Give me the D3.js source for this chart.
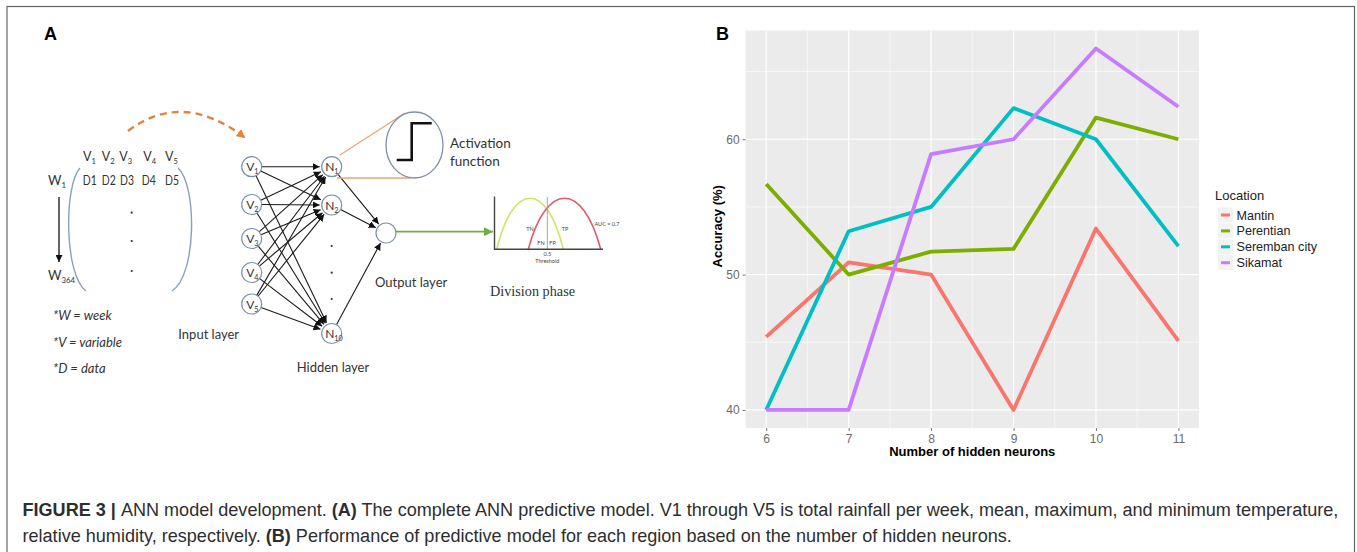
<!DOCTYPE html>
<meta charset="utf-8">
<script src="https://d3js.org/d3.v7.min.js"></script>
<style>
  body { margin: 0; background: #fff; }
  svg { display: block; }
</style>
<body>
<div id="fig"></div>
<script>

// ---- panel B data (accuracy per number of hidden neurons) ----
var neurons   = [6, 7, 8, 9, 10, 11];
var locations = ["Mantin", "Perentian", "Seremban city", "Sikamat"];
var mantin    = [45.4, 50.9, 50.0, 40.0, 53.4, 45.1];
var perentian = [56.7, 50.0, 51.7, 51.9, 61.6, 60.0];
var seremban  = [40.0, 53.2, 55.0, 62.3, 60.0, 52.1];
var sikamat   = [40.0, 40.0, 58.9, 60.0, 66.7, 62.4];
var yTicks    = [40, 50, 60];
var yMinor    = [45, 55, 65];
var palette   = ["#F8766D", "#7CAE00", "#00BFC4", "#C77CFF"];

// ---- panel A diagram labels ----
var inputIds  = ["1", "2", "3", "4", "5"];
var hiddenIds = ["1", "2", "10"];
var matrixCols = ["1", "2", "3", "4", "5"];
var notes = ["*W = week", "*V = variable", "*D = data"];

var W = 1357, H = 552;
var svg = d3.select("#fig").append("svg")
    .attr("width", W)
    .attr("height", H)
    .style("font-family", "'Liberation Sans', Arial, sans-serif");

svg.append("rect").attr("width", W).attr("height", H).attr("fill", "#fff");

// outer frame of the figure
svg.append("rect")
    .attr("x", 7).attr("y", 6.5)
    .attr("width", 1347.5).attr("height", 600)
    .attr("fill", "none").attr("stroke", "#666").attr("stroke-width", 1.2);

// panel letters
svg.append("text").attr("x", 44).attr("y", 40).text("A")
    .attr("font-size", 18).attr("font-weight", "bold");
svg.append("text").attr("x", 716).attr("y", 40).text("B")
    .attr("font-size", 18).attr("font-weight", "bold");

// ================= PANEL B =================
var series = locations.map(function(name, i) {
  var vals = [mantin, perentian, seremban, sikamat][i];
  return {name: name, color: palette[i], values: neurons.map(function(n, j) { return {x: n, y: vals[j]}; })};
});

var allY = [].concat(mantin, perentian, seremban, sikamat);
var yMin = d3.min(allY), yMax = d3.max(allY), yPad = (yMax - yMin) * 0.05;
var xPad = (d3.max(neurons) - d3.min(neurons)) * 0.05;

var panel = {left: 745.6, right: 1199, top: 30.5, bottom: 428};

var x = d3.scaleLinear()
    .domain([d3.min(neurons) - xPad, d3.max(neurons) + xPad])
    .range([panel.left, panel.right]);
var y = d3.scaleLinear()
    .domain([yMin - yPad, yMax + yPad])
    .range([panel.bottom, panel.top]);

var gB = svg.append("g");

gB.append("rect")
    .attr("x", panel.left).attr("y", panel.top)
    .attr("width", panel.right - panel.left).attr("height", panel.bottom - panel.top)
    .attr("fill", "#EBEBEB");

// minor grid
var xMinor = d3.range(6.5, 11, 1);
gB.selectAll(".vminor").data(xMinor).enter().append("line")
    .attr("x1", function(d) { return x(d); }).attr("x2", function(d) { return x(d); })
    .attr("y1", panel.top).attr("y2", panel.bottom)
    .attr("stroke", "#fff").attr("stroke-width", 0.6);
gB.selectAll(".hminor").data(yMinor).enter().append("line")
    .attr("x1", panel.left).attr("x2", panel.right)
    .attr("y1", function(d) { return y(d); }).attr("y2", function(d) { return y(d); })
    .attr("stroke", "#fff").attr("stroke-width", 0.6);
// major grid
gB.selectAll(".vmajor").data(neurons).enter().append("line")
    .attr("x1", function(d) { return x(d); }).attr("x2", function(d) { return x(d); })
    .attr("y1", panel.top).attr("y2", panel.bottom)
    .attr("stroke", "#fff").attr("stroke-width", 1.2);
gB.selectAll(".hmajor").data(yTicks).enter().append("line")
    .attr("x1", panel.left).attr("x2", panel.right)
    .attr("y1", function(d) { return y(d); }).attr("y2", function(d) { return y(d); })
    .attr("stroke", "#fff").attr("stroke-width", 1.2);

// axes
var xAxis = gB.append("g")
    .attr("transform", "translate(0," + panel.bottom + ")")
    .call(d3.axisBottom(x).tickValues(neurons).tickSize(3).tickPadding(3).tickFormat(d3.format("d")));
var yAxis = gB.append("g")
    .attr("transform", "translate(" + panel.left + ",0)")
    .call(d3.axisLeft(y).tickValues(yTicks).tickSize(3).tickPadding(3).tickFormat(d3.format("d")));
[xAxis, yAxis].forEach(function(a) {
  a.select(".domain").remove();
  a.selectAll("line").attr("stroke", "#777");
  a.selectAll("text").attr("fill", "#6b6b6b").attr("font-size", 12)
      .attr("font-family", "'Liberation Sans', Arial, sans-serif");
});

// lines
var line = d3.line().x(function(d) { return x(d.x); }).y(function(d) { return y(d.y); });
gB.selectAll(".series").data(series).enter().append("path")
    .attr("d", function(d) { return line(d.values); })
    .attr("fill", "none")
    .attr("stroke", function(d) { return d.color; })
    .attr("stroke-width", 3.8)
    .attr("stroke-linejoin", "round");

// axis titles
gB.append("text")
    .attr("x", (panel.left + panel.right) / 2).attr("y", 456)
    .attr("text-anchor", "middle").attr("font-size", 13).attr("font-weight", "bold")
    .text("Number of hidden neurons");
gB.append("text")
    .attr("transform", "translate(721.5," + ((panel.top + panel.bottom) / 2 - 3) + ") rotate(-90)")
    .attr("text-anchor", "middle").attr("font-size", 13).attr("font-weight", "bold")
    .text("Accuracy (%)");

// legend
var leg = gB.append("g").attr("transform", "translate(1215,0)");
leg.append("text").attr("x", 0).attr("y", 200).attr("font-size", 13).attr("fill", "#222").text("Location");
var li = leg.selectAll(".li").data(series).enter().append("g")
    .attr("transform", function(d, i) { return "translate(0," + (215 + i * 15.9) + ")"; });
li.append("rect").attr("x", 3).attr("y", -7.5).attr("width", 15).attr("height", 15).attr("fill", "#F2F2F2");
li.append("line").attr("x1", 6).attr("x2", 15).attr("y1", 0).attr("y2", 0)
    .attr("stroke", function(d) { return d.color; }).attr("stroke-width", 3);
li.append("text").attr("x", 21.5).attr("y", 4.5).attr("font-size", 12.6).attr("fill", "#222")
    .text(function(d) { return d.name; });

// ================= PANEL A =================
var gA = svg.append("g").style("font-family", "Lato, 'Open Sans', sans-serif").attr("fill", "#333");

var defs = svg.append("defs");
defs.append("marker").attr("id", "ah")
    .attr("viewBox", "0 0 10 10").attr("refX", 10).attr("refY", 5)
    .attr("markerWidth", 7).attr("markerHeight", 7).attr("markerUnits", "userSpaceOnUse")
    .attr("orient", "auto")
  .append("path").attr("d", "M0,0L10,5L0,10Z").attr("fill", "#111");
defs.append("marker").attr("id", "ahOrange")
    .attr("viewBox", "0 0 10 10").attr("refX", 8).attr("refY", 5)
    .attr("markerWidth", 9).attr("markerHeight", 9).attr("markerUnits", "userSpaceOnUse")
    .attr("orient", "auto")
  .append("path").attr("d", "M0,0L10,5L0,10Z").attr("fill", "#E8803A");
defs.append("marker").attr("id", "ahGreen")
    .attr("viewBox", "0 0 10 10").attr("refX", 10).attr("refY", 5)
    .attr("markerWidth", 9).attr("markerHeight", 9).attr("markerUnits", "userSpaceOnUse")
    .attr("orient", "auto")
  .append("path").attr("d", "M0,0L10,5L0,10Z").attr("fill", "#70AD47");

function subLabel(g, px, py, main, sub, size, anchor) {
  var t = g.append("text").attr("x", px).attr("y", py).attr("font-size", size)
      .attr("text-anchor", anchor || "start");
  t.append("tspan").text(main);
  t.append("tspan").attr("dy", size * 0.25).attr("font-size", size * 0.6).text(sub);
  return t;
}

// data matrix
var vColX = [83, 101.7, 119.3, 143.3, 165];
var dColX = [82.7, 101.7, 120, 141.7, 165];
matrixCols.forEach(function(c, i) {
  subLabel(gA, vColX[i], 161, "V", c, 12.5);
  gA.append("text").attr("x", dColX[i]).attr("y", 185).attr("font-size", 12.5)
      .attr("textLength", 14).attr("lengthAdjust", "spacingAndGlyphs").text("D" + c);
});
subLabel(gA, 48, 185, "W", "1", 13);
subLabel(gA, 48, 280, "W", "364", 13);
[212.7, 241, 271].forEach(function(dy) {
  gA.append("circle").attr("cx", 131.7).attr("cy", dy).attr("r", 1.1).attr("fill", "#333");
});
gA.append("line").attr("x1", 59).attr("x2", 59).attr("y1", 197).attr("y2", 262)
    .attr("stroke", "#111").attr("stroke-width", 1.3).attr("marker-end", "url(#ah)");
// brackets
gA.append("path").attr("d", "M80,168 C64,185 64,275 86,291")
    .attr("fill", "none").attr("stroke", "#8AA0BE").attr("stroke-width", 1.4);
gA.append("path").attr("d", "M178,168 C197,185 197,275 172,291")
    .attr("fill", "none").attr("stroke", "#8AA0BE").attr("stroke-width", 1.4);

notes.forEach(function(n, i) {
  gA.append("text").attr("x", 53).attr("y", 320 + i * 26.7).attr("font-size", 13)
      .attr("font-style", "italic").text(n);
});

// dashed orange arc from matrix to inputs
gA.append("path").attr("d", "M128,131 Q182,90 244,137")
    .attr("fill", "none").attr("stroke", "#E8803A").attr("stroke-width", 2.4)
    .attr("stroke-dasharray", "7,5").attr("marker-end", "url(#ahOrange)");

// network nodes
var r = 10;
var inputY = {"1": 166.7, "2": 204.5, "3": 238.5, "4": 272.5, "5": 304};
var hiddenY = {"1": 166.7, "2": 205, "10": 333.5};
var inX = 251.7, hidX = 331.7, out = {x: 386, y: 233};

function arrow(x1, y1, x2, y2, r1, r2) {
  var dx = x2 - x1, dy = y2 - y1, L = Math.sqrt(dx * dx + dy * dy);
  var ux = dx / L, uy = dy / L;
  gA.append("line")
      .attr("x1", x1 + ux * r1).attr("y1", y1 + uy * r1)
      .attr("x2", x2 - ux * r2).attr("y2", y2 - uy * r2)
      .attr("stroke", "#1a1a1a").attr("stroke-width", 1.1)
      .attr("marker-end", "url(#ah)");
}
inputIds.forEach(function(i) {
  hiddenIds.forEach(function(h) {
    arrow(inX, inputY[i], hidX, hiddenY[h], r, r + 2);
  });
});
hiddenIds.forEach(function(h) {
  arrow(hidX, hiddenY[h], out.x, out.y, r, r + 1.5);
});

inputIds.forEach(function(i) {
  gA.append("circle").attr("cx", inX).attr("cy", inputY[i]).attr("r", r)
      .attr("fill", "#fff").attr("stroke", "#7F90A8").attr("stroke-width", 1.2);
  subLabel(gA, inX - 5.5, inputY[i] + 4.5, "V", i, 12);
});
hiddenIds.forEach(function(h) {
  gA.append("circle").attr("cx", hidX).attr("cy", hiddenY[h]).attr("r", r)
      .attr("fill", "#fff").attr("stroke", "#7F90A8").attr("stroke-width", 1.2);
  subLabel(gA, hidX - 6.5, hiddenY[h] + 4.5, "N", h, 12);
});
[246, 272.7, 299].forEach(function(dy) {
  gA.append("circle").attr("cx", hidX).attr("cy", dy).attr("r", 1.1).attr("fill", "#333");
});
gA.append("circle").attr("cx", out.x).attr("cy", out.y).attr("r", r)
    .attr("fill", "#fff").attr("stroke", "#7F90A8").attr("stroke-width", 1.2);

// activation function zoom
gA.append("line").attr("x1", 340).attr("y1", 155).attr("x2", 405).attr("y2", 113)
    .attr("stroke", "#EFA56E").attr("stroke-width", 1.3);
gA.append("line").attr("x1", 337).attr("y1", 178).attr("x2", 411).attr("y2", 178)
    .attr("stroke", "#EFA56E").attr("stroke-width", 1.3);
gA.append("ellipse").attr("cx", 414.5).attr("cy", 145).attr("rx", 28.5).attr("ry", 33)
    .attr("fill", "#fff").attr("stroke", "#7F90A8").attr("stroke-width", 1.3);
gA.append("path").attr("d", "M396.7,160 H411.7 V123.3 H431.7")
    .attr("fill", "none").attr("stroke", "#111").attr("stroke-width", 2.6);
gA.append("text").attr("x", 450).attr("y", 148).attr("font-size", 13.5).text("Activation");
gA.append("text").attr("x", 450).attr("y", 165.5).attr("font-size", 13.5).text("function");

// output -> division phase
gA.append("line").attr("x1", 396).attr("y1", 231.7).attr("x2", 493).attr("y2", 231.7)
    .attr("stroke", "#70AD47").attr("stroke-width", 1.8).attr("marker-end", "url(#ahGreen)");
gA.append("text").attr("x", 375).attr("y", 287).attr("font-size", 13).text("Output layer");
gA.append("text").attr("x", 178.3).attr("y", 338.5).attr("font-size", 13).text("Input layer");
gA.append("text").attr("x", 296.7).attr("y", 372).attr("font-size", 13).text("Hidden layer");

// division phase mini chart
var base = 249.3, peak = 198.3;
function hump(x0, x1) {
  var w = x1 - x0, h = base - peak;
  var p = d3.path();
  p.moveTo(x0, base);
  p.bezierCurveTo(x0 + w * 0.25, base - h * 4 / 3, x1 - w * 0.25, base - h * 4 / 3, x1, base);
  return p.toString();
}
gA.append("path").attr("d", hump(496.7, 563.3)).attr("fill", "none").attr("stroke", "#D2E36A").attr("stroke-width", 1.6);
gA.append("path").attr("d", hump(528.3, 600.7)).attr("fill", "none").attr("stroke", "#DC5C70").attr("stroke-width", 1.6);
gA.append("line").attr("x1", 547.3).attr("x2", 547.3).attr("y1", 197).attr("y2", base)
    .attr("stroke", "#9a9a9a").attr("stroke-width", 0.9);
gA.append("path").attr("d", "M494.5,196.5 V" + base + " H603")
    .attr("fill", "none").attr("stroke", "#444").attr("stroke-width", 1.4);
var tiny = [["TN", 530, 230.5], ["TP", 565, 230.5], ["FN", 541, 245], ["FP", 552.5, 245],
            ["AUC = 0.7", 607, 225.5], ["0.5", 547.3, 255.5], ["Threshold", 547.3, 262.5]];
tiny.forEach(function(t) {
  gA.append("text").attr("x", t[1]).attr("y", t[2]).attr("font-size", 5.5)
      .attr("text-anchor", "middle").attr("fill", "#444").text(t[0]);
});
gA.append("text").attr("x", 490).attr("y", 296).attr("font-size", 15)
    .attr("font-family", "'Liberation Serif', 'DejaVu Serif', serif")
    .attr("textLength", 85).attr("lengthAdjust", "spacingAndGlyphs").text("Division phase");

// ================= CAPTION =================
var capLines = [
  [["FIGURE 3 | ", true], ["ANN model development. ", false], ["(A)", true],
   [" The complete ANN predictive model. V1 through V5 is total rainfall per week, mean, maximum, and minimum temperature,", false]],
  [["relative humidity, respectively. ", false], ["(B)", true],
   [" Performance of predictive model for each region based on the number of hidden neurons.", false]]
];
var capY = [515.5, 541.5];
var capNodes = capLines.map(function(parts, i) {
  var t = svg.append("text").attr("x", 22.5).attr("y", capY[i]).attr("font-size", 15).attr("fill", "#2e2e2e");
  parts.forEach(function(p) {
    t.append("tspan").attr("font-weight", p[1] ? "bold" : "normal").text(p[0]);
  });
  return t;
});
var natural = capNodes[0].node().getComputedTextLength();
var fs = 15 * 1317 / natural;
capNodes.forEach(function(t) { t.attr("font-size", fs); });

</script>
</body>
